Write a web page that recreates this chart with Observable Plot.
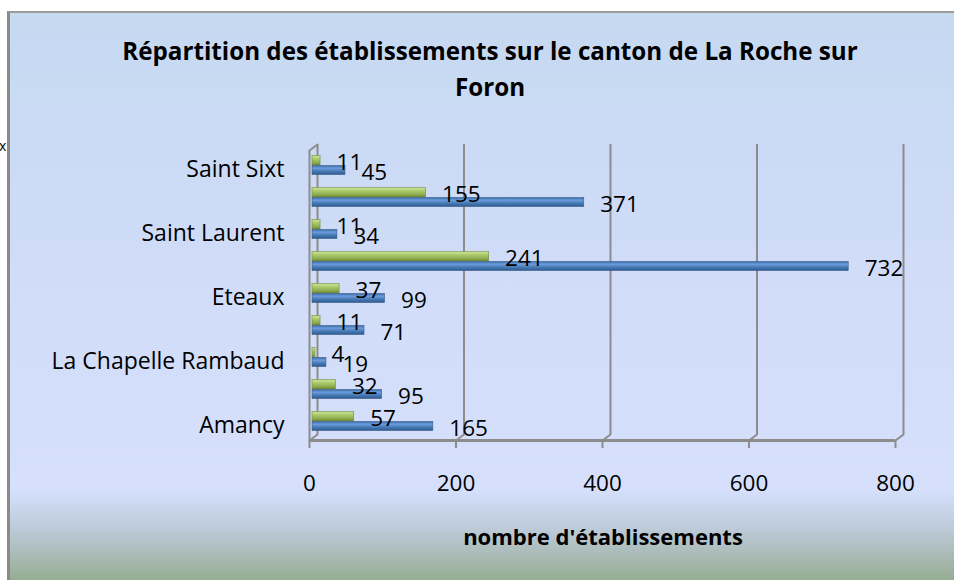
<!DOCTYPE html>
<html><head><meta charset="utf-8">
<script src="https://cdn.jsdelivr.net/npm/d3@7"></script>
<script src="https://cdn.jsdelivr.net/npm/@observablehq/plot@0.6"></script>
<style>
body{margin:0;background:#fff;}
#page{position:relative;width:954px;height:580px;overflow:hidden;font-family:"Open Sans",sans-serif;}
#chartbg{position:absolute;left:7px;top:11px;width:990px;height:567px;border-left:3px solid #8a8a8a;border-top:2px solid #9a9a9a;
background:linear-gradient(to bottom,#c6d9f1 0%,#d0dcf8 45%,#d6e0fd 84%,#bdcad9 91%,#97ad93 100%);}
#title{position:absolute;left:7px;width:966px;top:33px;text-align:center;font-weight:700;font-size:24.2px;line-height:36px;color:#000;}
#xlabel{position:absolute;left:403px;width:400px;top:521px;text-align:center;font-weight:700;font-size:22px;line-height:30px;color:#000;}
#frag{position:absolute;left:-1px;top:136px;font-size:14px;color:#000;}
#plot{position:absolute;left:0;top:0;}
</style>
</head><body>
<div id="page">
  <div id="chartbg"></div>
  <div id="frag">x</div>
  <div id="title">Répartition des établissements sur le canton de La Roche sur<br>Foron</div>
  <div id="xlabel">nombre d'établissements</div>
  <div id="plot"></div>
</div>
<script>
const communes = ["Amancy","Arenthon","La Chapelle Rambaud","Cornier","Eteaux","La Roche sur Foron","Saint Laurent","Saint Pierre en Faucigny","Saint Sixt"];
const serieVerte = [57, 32, 4, 11, 37, 241, 11, 155, 11];
const serieBleue = [165, 95, 19, 71, 99, 732, 34, 371, 45];
const ticksX = [0, 200, 400, 600, 800];
const libellesVisibles = ["Amancy","La Chapelle Rambaud","Eteaux","Saint Laurent","Saint Sixt"];

const rows = communes.map((c, i) => ({commune: c, verte: serieVerte[i], bleue: serieBleue[i]}));
const grid = "#8c8c8c";
const diag = {draw(ctx, l) { ctx.moveTo(0, 0); ctx.lineTo(0, -l); }};

const chart = Plot.plot({
  width: 954, height: 580,
  marginLeft: 309, marginRight: 59, marginTop: 149, marginBottom: 143,
  style: {background: "transparent", fontFamily: "'Open Sans', sans-serif", overflow: "visible", color: "#000"},
  x: {domain: [0, 800], axis: null},
  y: {domain: [...communes].reverse(), padding: 0, axis: null},
  marks: [
    Plot.ruleX(ticksX, {dx: 8, insetTop: -5, insetBottom: 3, stroke: grid, strokeWidth: 2}),
    Plot.vector(ticksX, {x: d => d, frameAnchor: "bottom", dy: 3, length: 10, rotate: 53, anchor: "start", shape: diag, stroke: grid, strokeWidth: 2}),
    Plot.vector([0], {x: d => d, frameAnchor: "top", dy: 1, length: 10, rotate: 53, anchor: "start", shape: diag, stroke: grid, strokeWidth: 2}),
    Plot.ruleX([0], {insetTop: 1, insetBottom: -11, stroke: grid, strokeWidth: 2}),
    Plot.ruleY([0], {y: null, x1: 0, x2: 800, dy: 147, stroke: grid, strokeWidth: 3}),
    Plot.ruleX(ticksX.slice(1), {insetTop: 291, insetBottom: -11, stroke: grid, strokeWidth: 2}),
    Plot.barX(rows, {x: "verte", y: "commune", insetTop: 6.5, insetBottom: 16, dx: 3, fill: "url(#gradVert)", stroke: "#6f8a3a", strokeWidth: 0.6}),
    Plot.barX(rows, {x: "bleue", y: "commune", insetTop: 16.5, insetBottom: 6.5, dx: 3, fill: "url(#gradBleu)", stroke: "#385d8a", strokeWidth: 0.6}),
    Plot.text(rows, {x: "verte", y: "commune", text: "verte", dx: 19, dy: -2.5, textAnchor: "start", fontSize: 22.5, fill: "#000"}),
    Plot.text(rows, {x: "bleue", y: "commune", text: "bleue", dx: 19, dy: 6.8, textAnchor: "start", fontSize: 22.5, fill: "#000"}),
    Plot.axisY({ticks: libellesVisibles, tickSize: 0, tickPadding: 25, fontSize: 23, dy: 4.5, label: null, fill: "#000"}),
    Plot.axisX({ticks: ticksX, tickSize: 0, tickPadding: 38, fontSize: 22.5, label: null, fill: "#000"})
  ]
});

const ns = "http://www.w3.org/2000/svg";
const defs = document.createElementNS(ns, "defs");
defs.innerHTML = `
<linearGradient id="gradVert" x1="0" y1="0" x2="0" y2="1">
  <stop offset="0%" stop-color="#d3e6a2"/>
  <stop offset="35%" stop-color="#aacb6b"/>
  <stop offset="70%" stop-color="#90b152"/>
  <stop offset="100%" stop-color="#6c8a37"/>
</linearGradient>
<linearGradient id="gradBleu" x1="0" y1="0" x2="0" y2="1">
  <stop offset="0%" stop-color="#3d6ba8"/>
  <stop offset="30%" stop-color="#6c9ddd"/>
  <stop offset="55%" stop-color="#4f81bd"/>
  <stop offset="100%" stop-color="#2f5a8f"/>
</linearGradient>`;
chart.insertBefore(defs, chart.firstChild);
document.getElementById("plot").appendChild(chart);
</script>
</body></html>
